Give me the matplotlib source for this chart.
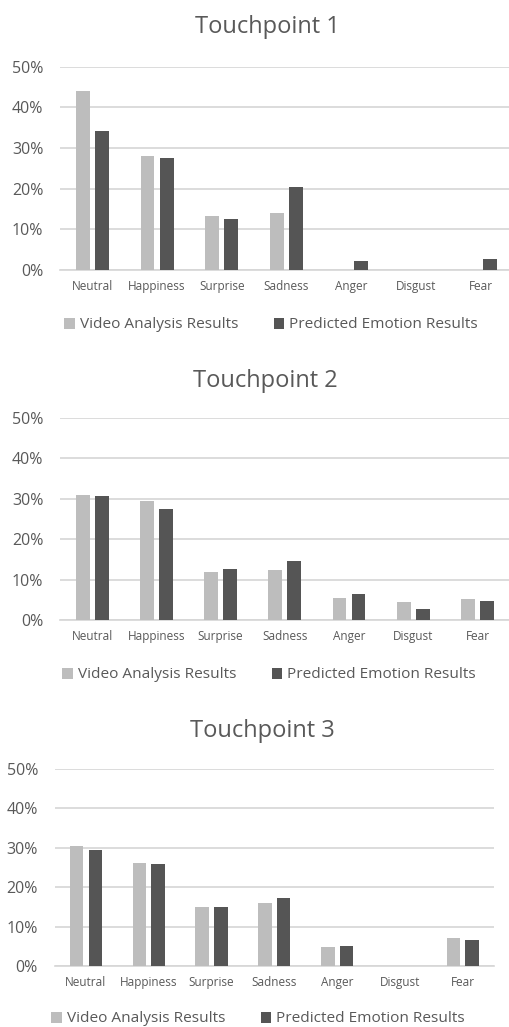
import matplotlib
matplotlib.use("Agg")
import matplotlib.pyplot as plt
import numpy as np
from matplotlib.ticker import FuncFormatter

categories = ["Neutral", "Happiness", "Surprise", "Sadness", "Anger", "Disgust", "Fear"]
series_names = ["Video Analysis Results", "Predicted Emotion Results"]
titles = ["Touchpoint 1", "Touchpoint 2", "Touchpoint 3"]

tp1_video = [44.0, 28.1, 13.3, 14.1, 0.0, 0.0, 0.0]
tp1_pred = [34.3, 27.6, 12.6, 20.4, 2.2, 0.0, 2.6]
tp2_video = [31.0, 29.4, 11.8, 12.3, 5.5, 4.4, 5.1]
tp2_pred = [30.7, 27.4, 12.6, 14.7, 6.5, 2.6, 4.8]
tp3_video = [30.5, 26.1, 15.1, 15.9, 4.8, 0.0, 7.1]
tp3_pred = [29.4, 25.8, 15.0, 17.3, 5.2, 0.0, 6.6]
yticks = [0, 10, 20, 30, 40, 50]

plt.rcParams['font.family'] = ['Open Sans', 'DejaVu Sans']

W, H = 509, 1027
fig = plt.figure(figsize=(W / 100, H / 100), dpi=100)

LIGHT = "#bdbdbd"
DARK = "#555555"
TXT = "#595959"
GRID = "#d6d6d6"

# (left, right, top(50%), bottom(0%), title_y, title_x, legend_y, legend_x)
layout = [
    (60, 513, 66.7, 270, 27, 267, 325, 271),
    (60, 509.6, 418, 620, 381, 265, 675, 269),
    (54.6, 494, 769, 966, 731, 262, 1019, 258),
]
data = [(tp1_video, tp1_pred), (tp2_video, tp2_pred), (tp3_video, tp3_pred)]

x = np.arange(len(categories))
bw = 0.215
off = 0.148

for (l, r, t, b, ty, tx, ly, lx), (v, p), title in zip(layout, data, titles):
    ax = fig.add_axes([l / W, 1 - b / H, (r - l) / W, (b - t) / H])
    ax.bar(x - off, v, width=bw, color=LIGHT, label=series_names[0], zorder=3)
    ax.bar(x + off, p, width=bw, color=DARK, label=series_names[1], zorder=3)
    ax.set_xlim(-0.5, len(categories) - 0.5)
    ax.set_ylim(0, 50)
    ax.set_yticks(yticks)
    ax.yaxis.set_major_formatter(FuncFormatter(lambda val, pos: f"{int(val)}%"))
    ax.set_xticks(x)
    ax.set_xticklabels(categories)
    ax.grid(axis='y', color=GRID, linewidth=1.2, zorder=0)
    for s in ['top', 'right', 'left']:
        ax.spines[s].set_visible(False)
    ax.spines['bottom'].set_color(GRID)
    ax.spines['bottom'].set_linewidth(1.2)
    ax.tick_params(axis='both', length=0)
    ax.tick_params(axis='y', labelsize=11.5, labelcolor=TXT, pad=12)
    ax.tick_params(axis='x', labelsize=8.5, labelcolor=TXT, pad=7)
    fig.text(tx / W, 1 - ty / H, title, ha='center', va='center',
             fontsize=17, color=TXT)
    ax.legend(loc='center', bbox_to_anchor=(lx / W, 1 - ly / H),
              bbox_transform=fig.transFigure, ncol=2, frameon=False,
              fontsize=11.1, labelcolor=TXT, handlelength=0.7,
              handleheight=0.7, handletextpad=0.3, columnspacing=2.3)

fig.savefig("out.png", dpi=100)
